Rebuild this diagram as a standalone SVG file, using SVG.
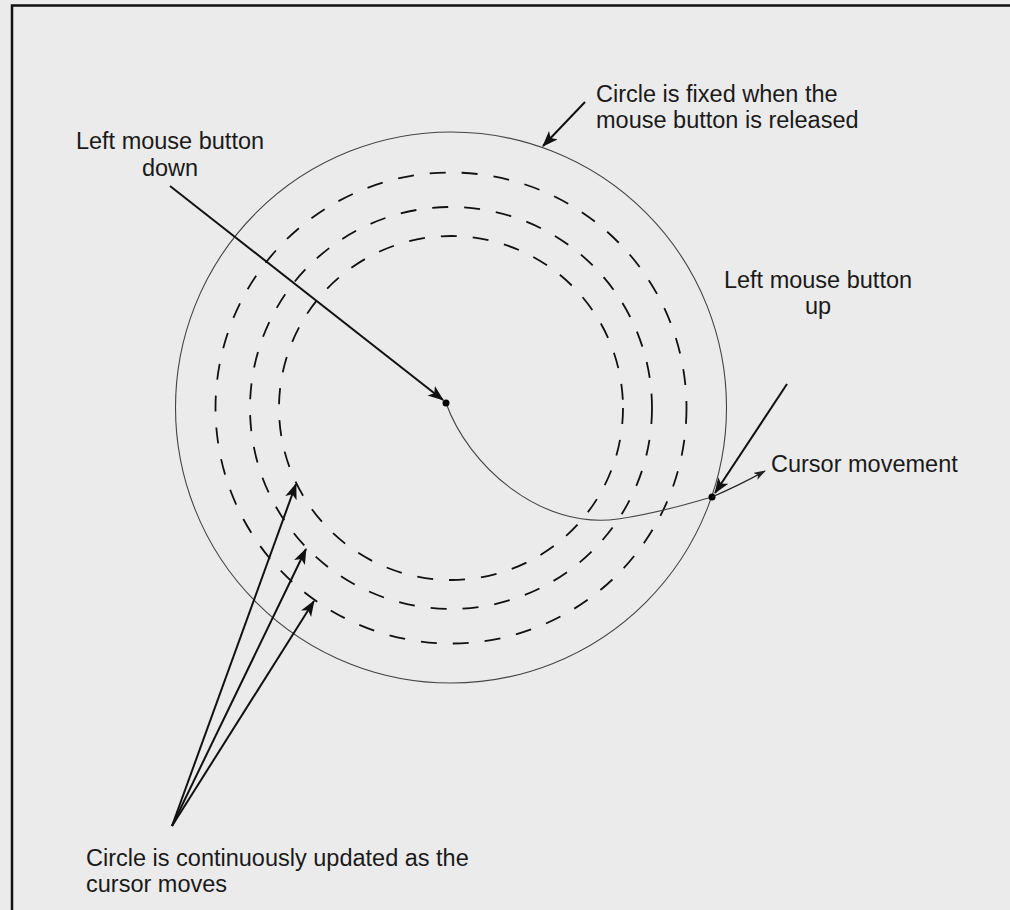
<svg xmlns="http://www.w3.org/2000/svg" width="1010" height="910" viewBox="0 0 1010 910">
<style>
.bg{fill:#ebebeb}
.frame{stroke:#111;stroke-width:2.5;fill:none}
.thin{fill:none;stroke:#444;stroke-width:1.1}
.dash{fill:none;stroke:#111;stroke-width:1.8;stroke-dasharray:16 16}
.arrow{fill:none;stroke:#111;stroke-width:2}
.arrowthin{fill:none;stroke:#222;stroke-width:1.2}
text{font-family:"Liberation Sans",Arial,sans-serif;font-size:23.5px;fill:#1a1a1a}
.c{text-anchor:middle}
</style>
<defs>
<marker id="ah" markerUnits="userSpaceOnUse" markerWidth="18" markerHeight="14" refX="15" refY="6" orient="auto">
<path d="M0,0 L16,6 L0,12 L4,6 z" fill="#111"/>
</marker>
<marker id="ahs" markerUnits="userSpaceOnUse" markerWidth="14" markerHeight="10" refX="11" refY="4" orient="auto">
<path d="M0,0 L12,4 L0,8 L3,4 z" fill="#222"/>
</marker>
</defs>
<rect class="bg" x="0" y="0" width="1010" height="910"/>
<path class="frame" d="M12,910 L12,5.5 L1010,5.5"/>

<g id="circles">
<circle class="thin" cx="451" cy="407.5" r="275.5"/>
<circle class="dash" cx="451" cy="408" r="235.5"/>
<circle class="dash" cx="451" cy="408" r="201"/>
<circle class="dash" cx="451" cy="408" r="172"/>
<path class="thin" d="M446,403 C468,465 540,530 618,519 C660,513 690,503 712,497"/>
<circle cx="446" cy="403" r="3.5" fill="#000"/>
<circle cx="712" cy="497" r="3.5" fill="#000"/>
</g>

<g id="connectors">
<line class="arrow" x1="170" y1="186" x2="443" y2="400" marker-end="url(#ah)"/>
<line class="arrow" x1="585" y1="102" x2="543" y2="146" marker-end="url(#ah)"/>
<line class="arrow" x1="787" y1="384" x2="715" y2="493" marker-end="url(#ah)"/>
<path class="arrowthin" d="M712,497 Q740,485 765,471" marker-end="url(#ahs)"/>
<line class="arrow" x1="172" y1="826" x2="296" y2="484" marker-end="url(#ah)"/>
<line class="arrow" x1="172" y1="826" x2="306" y2="549" marker-end="url(#ah)"/>
<line class="arrow" x1="172" y1="826" x2="314" y2="601" marker-end="url(#ah)"/>
</g>

<g id="label-down">
<text class="c" x="170" y="149">Left mouse button</text>
<text class="c" x="170" y="176">down</text>
</g>
<g id="label-fixed">
<text x="596" y="102">Circle is fixed when the</text>
<text x="596" y="128">mouse button is released</text>
</g>
<g id="label-up">
<text class="c" x="818" y="288">Left mouse button</text>
<text class="c" x="818" y="314">up</text>
</g>
<g id="label-cursor">
<text x="771" y="472">Cursor movement</text>
</g>
<g id="label-updated">
<text x="86" y="866">Circle is continuously updated as the</text>
<text x="86" y="892">cursor moves</text>
</g>
</svg>
